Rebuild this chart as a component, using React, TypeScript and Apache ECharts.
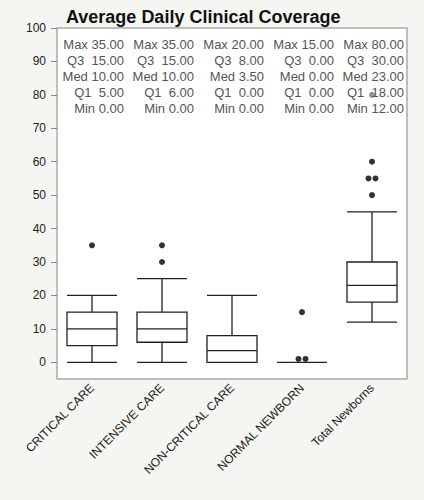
import React, { useEffect, useRef } from "react";
import * as echarts from "echarts";

const categories = ["CRITICAL CARE", "INTENSIVE CARE", "NON-CRITICAL CARE", "NORMAL NEWBORN", "Total Newborns"];
// box: [lower whisker, Q1, median, Q3, upper whisker]
const whiskerLow = [0, 0, 0, 0, 12];
const q1 = [5, 6, 0, 0, 18];
const median = [10, 10, 3.5, 0, 23];
const q3 = [15, 15, 8, 0, 30];
const whiskerHigh = [20, 25, 20, 0, 45];
// summary stats shown in the text block
const statMax = [35, 35, 20, 15, 80];
const statQ3 = [15, 15, 8, 0, 30];
const statMed = [10, 10, 3.5, 0, 23];
const statQ1 = [5, 6, 0, 0, 18];
const statMin = [0, 0, 0, 0, 12];
// outliers
const outlierCat = [0, 1, 1, 3, 3, 3, 4, 4, 4, 4, 4];
const outlierVal = [35, 35, 30, 15, 1, 1, 80, 60, 55, 55, 50];
const yTicks = [0, 10, 20, 30, 40, 50, 60, 70, 80, 90, 100];

const FONT = '"Liberation Sans", Arial, sans-serif';

export default function App() {
  const ref = useRef<HTMLDivElement>(null);
  useEffect(() => {
    const chart = echarts.init(ref.current!, null, { renderer: "svg" });

    // spread duplicate outliers side by side
    const seen: Record<string, number> = {};
    const counts: Record<string, number> = {};
    outlierCat.forEach((c, i) => {
      const k = c + "_" + outlierVal[i];
      counts[k] = (counts[k] || 0) + 1;
    });
    const outlierData = outlierCat.map((c, i) => {
      const k = c + "_" + outlierVal[i];
      const n = counts[k];
      const j = seen[k] || 0;
      seen[k] = j + 1;
      const off = n > 1 ? (j - (n - 1) / 2) * 7 : 0;
      const isHidden = outlierVal[i] > 70;
      return {
        value: [c, outlierVal[i]],
        symbolOffset: [off, 0],
        itemStyle: { color: isHidden ? "#777" : "#000" },
      };
    });

    const fmt = (v: number) => v.toFixed(2);
    const statText = categories.map((_, i) =>
      [
        "Max " + fmt(statMax[i]),
        "Q3  " + fmt(statQ3[i]),
        "Med " + fmt(statMed[i]),
        "Q1  " + fmt(statQ1[i]),
        "Min " + fmt(statMin[i]),
      ].join("\n")
    );

    chart.setOption({
      animation: false,
      backgroundColor: "#f5f5f1",
      title: {
        text: "Average Daily Clinical Coverage",
        left: 61,
        top: 3,
        textStyle: { fontFamily: FONT, fontSize: 18, fontWeight: "bold", color: "#111" },
      },
      grid: {
        left: 57,
        right: 17,
        top: 28,
        bottom: 121,
        show: true,
        backgroundColor: "#fff",
        borderColor: "#aaa",
        borderWidth: 1.5,
      },
      xAxis: {
        type: "category",
        data: categories,
        axisLine: { show: false },
        axisTick: { show: false },
        axisLabel: {
          interval: 0,
          rotate: 45,
          margin: 7,
          fontFamily: FONT,
          fontSize: 12,
          color: "#222",
        },
      },
      yAxis: {
        type: "value",
        min: -5,
        max: 100,
        axisLine: { show: false },
        splitLine: { show: false },
        axisTick: { show: true, length: 6, customValues: yTicks, lineStyle: { color: "#888" } },
        axisLabel: { customValues: yTicks, fontFamily: FONT, fontSize: 12, color: "#222", margin: 11 },
      },
      series: [
        {
          type: "boxplot",
          boxWidth: [50, 50],
          itemStyle: { color: "#fff", borderColor: "#222", borderWidth: 1.3 },
          data: categories.map((_, i) => [whiskerLow[i], q1[i], median[i], q3[i], whiskerHigh[i]]),
          z: 2,
        },
        {
          type: "scatter",
          symbol: "circle",
          symbolSize: 6,
          data: outlierData,
          z: 3,
        },
        {
          type: "custom",
          z: 5,
          data: categories.map((_, i) => [i, 100]),
          renderItem: (params: any, api: any) => {
            const i = params.dataIndex;
            const pt = api.coord([i, 100]);
            const sz = api.size([1, 0]);
            return {
              type: "text",
              style: {
                text: statText[i],
                x: pt[0] + sz[0] / 2 - 3,
                y: pt[1] + 8,
                align: "right",
                verticalAlign: "top",
                font: "13px " + FONT,
                fill: "#555",
                lineHeight: 16,
              },
            };
          },
        },
      ],
    });
    return () => chart.dispose();
  }, []);
  return (
    <div
      ref={ref}
      style={{ position: "fixed", left: 0, top: 0, width: 424, height: 500 }}
    />
  );
}
